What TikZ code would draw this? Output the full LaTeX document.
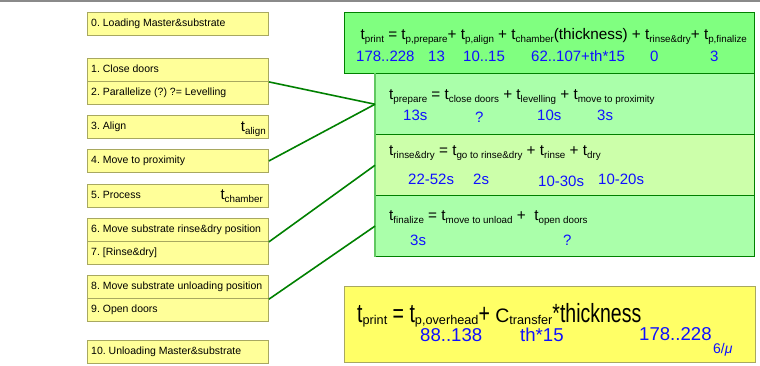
\documentclass[tikz,border=0pt]{standalone}
\usepackage{fontspec}
\usepackage{graphicx}
\setmainfont{Liberation Sans}
\frenchspacing
\definecolor{stepfill}{HTML}{FFFF99}
\definecolor{stepline}{HTML}{A8A860}
\definecolor{sumfill}{HTML}{FFFF66}
\definecolor{totfill}{HTML}{80FF80}
\definecolor{secfill}{HTML}{AAFFAA}
\definecolor{secfillb}{HTML}{CCFFAA}
\definecolor{darkgreen}{HTML}{008000}
\definecolor{edgegreen}{HTML}{60C860}
\definecolor{valblue}{HTML}{1010FF}
\definecolor{topbar}{HTML}{8A8A8A}
% lowered subscripts for the 15pt formulas and the large summary formula
\newcommand\lo[1]{\raisebox{-3pt}{\fontsize{9.8}{10}\selectfont #1}}
\newcommand\lobig[1]{\raisebox{-2pt}{\fontsize{12.7}{13}\selectfont #1}}
% tall glyphs of the summary formula
\newcommand\tall[1]{\scalebox{1}[1.35]{#1}}
\tikzset{
  stepbox/.style={draw=stepline, fill=stepfill, line width=0.9pt, anchor=north west,
    minimum width=181pt, minimum height=23pt, inner sep=0pt},
  steptext/.style={anchor=west, xshift=4pt, inner sep=0pt, text height=7.6pt,
    text depth=2.2pt, font=\fontsize{10.5}{12}\selectfont},
  secbox/.style={draw=darkgreen, line width=0.9pt, anchor=north west,
    minimum width=379pt, minimum height=61pt, inner sep=0pt},
  formula/.style={anchor=base west, inner sep=0pt, font=\fontsize{15.3}{16}\selectfont},
  val/.style={anchor=base west, inner sep=0pt, text=valblue, font=\fontsize{15}{16}\selectfont},
  bigval/.style={anchor=base west, inner sep=0pt, text=valblue, font=\fontsize{18.6}{20}\selectfont},
  conn/.style={draw=darkgreen, line width=1.6pt},
}
\begin{document}
\begin{tikzpicture}[x=1pt,y=-1pt]
\useasboundingbox (0,0) rectangle (760,366);
\fill[topbar] (0,0) rectangle (760,2.3);

% process steps
\node[stepbox] (b0) at (87,12.3) {};
\node[stepbox] (b1) at (87,58) {};
\node[stepbox] (b2) at (87,81) {};
\node[stepbox] (b3) at (87,115) {};
\node[stepbox] (b4) at (87,149) {};
\node[stepbox] (b5) at (87,184) {};
\node[stepbox] (b6) at (87,218) {};
\node[stepbox] (b7) at (87,241) {};
\node[stepbox] (b8) at (87,275.3) {};
\node[stepbox] (b9) at (87,298.3) {};
\node[stepbox] (b10) at (87,340) {};
\node[steptext] (l0) at (b0.west) {0. Loading Master\&substrate};
\node[steptext] (l1) at (b1.west) {1. Close doors};
\node[steptext] (l2) at (b2.west) {2. Parallelize (?) ?= Levelling};
\node[steptext] (l3) at (b3.west) {3. Align};
\node[steptext] (l4) at (b4.west) {4. Move to proximity};
\node[steptext] (l5) at (b5.west) {5. Process};
\node[steptext] (l6) at (b6.west) {6. Move substrate rinse\&dry position};
\node[steptext] (l7) at (b7.west) {7. [Rinse\&dry]};
\node[steptext] (l8) at (b8.west) {8. Move substrate unloading position};
\node[steptext] (l9) at (b9.west) {9. Open doors};
\node[steptext] (l10) at (b10.west) {10. Unloading Master\&substrate};
\node[anchor=base east, inner sep=0pt, font=\fontsize{15}{16}\selectfont] (talign) at (266,131.7) {t\lo{align}};
\node[anchor=base east, inner sep=0pt, font=\fontsize{15}{16}\selectfont] (tcham) at (263,200) {t\lo{chamber}};

% total print time
\node[draw=darkgreen, fill=totfill, line width=0.9pt, anchor=north west,
  minimum width=410pt, minimum height=60.8pt, inner sep=0pt] (tot) at (344,12.5) {};
\node[formula] (ftot) at (360.5,40) {t\lo{print} = t\lo{p,prepare}+ t\lo{p,align} + t\lo{chamber}(thickness) + t\lo{rinse\&dry}+ t\lo{p,finalize}};
\node[val] (v1) at (356,61.7) {178..228};
\node[val] (v2) at (428,61.7) {13};
\node[val] (v3) at (463,61.7) {10..15};
\node[val] (v4) at (531,61.7) {62..107+th*15};
\node[val] (v5) at (650,61.7) {0};
\node[val] (v6) at (710,61.7) {3};

% breakdown sections
\node[secbox, fill=secfill] (prep) at (375,73.3) {};
\node[secbox, fill=secfillb] (rinse) at (375,134.3) {};
\node[secbox, fill=secfill, minimum height=60.7pt] (fin) at (375,195.3) {};
\draw[edgegreen, line width=1.8pt] (prep.north west) -- (fin.south west);

\node[formula] (fprep) at (389,100) {t\lo{prepare} = t\lo{close doors} + t\lo{levelling} + t\lo{move to proximity}};
\node[val] (p1) at (403,120.7) {13s};
\node[val] (p2) at (475,123) {?};
\node[val] (p3) at (537,120.7) {10s};
\node[val] (p4) at (597,120.7) {3s};

\node[formula] (frinse) at (389,156) {t\lo{rinse\&dry} = t\lo{go to rinse\&dry} + t\lo{rinse} + t\lo{dry}};
\node[val] (r1) at (408,184.3) {22-52s};
\node[val] (r2) at (473,184.3) {2s};
\node[val] (r3) at (538,186) {10-30s};
\node[val] (r4) at (598,184.3) {10-20s};

\node[formula] (ffin) at (389,220.5) {t\lo{finalize} = t\lo{move to unload} +\ \ t\lo{open doors}};
\node[val] (f1) at (410,245) {3s};
\node[val] (f2) at (563,245) {?};

% connectors from steps to the breakdown
\draw[conn] (b1.south east) -- (prep.west);
\draw[conn] (b4.east) -- (prep.west);
\draw[conn] (b6.south east) -- (rinse.west);
\draw[conn] (b8.south east) -- (fin.west);

% summary
\node[draw=stepline, fill=sumfill, line width=1pt, anchor=north west,
  minimum width=411pt, minimum height=75.7pt, inner sep=0pt] (sum) at (344.3,286.3) {};
\node[anchor=base west, inner sep=0pt, font=\fontsize{19.5}{21}\selectfont] (fsum) at (357,322)
  {\tall{t}\lobig{print} \tall{=} \tall{t}\lobig{p,overhead}\tall{+} C\lobig{transfer}\tall{*thickness}};
\node[bigval] (s1) at (420,341.5) {88..138};
\node[bigval] (s2) at (520,341.5) {th*15};
\node[bigval] (s3) at (639,340.7) {178..228};
\node[anchor=base west, inner sep=0pt, text=valblue, font=\fontsize{14}{15}\selectfont] (s4) at (713,353) {6/\textit{μ}};
\end{tikzpicture}
\end{document}
